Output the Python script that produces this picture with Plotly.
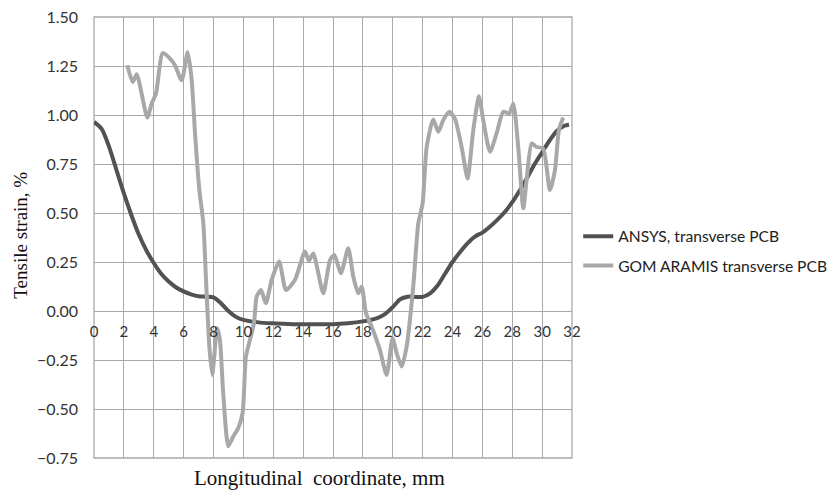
import plotly.graph_objects as go

# ANSYS, transverse PCB
ansys_x = [0, 0.5, 1, 1.5, 2, 2.5, 3, 3.5, 4, 4.5, 5, 5.5, 6, 6.5, 7, 7.5, 8, 8.5, 9, 9.5,
           10, 11, 12, 13, 14, 15, 16, 17, 18, 18.5, 19, 19.5, 20, 20.5, 21, 21.5, 22, 22.5,
           23, 23.5, 24, 24.5, 25, 25.5, 26, 26.5, 27, 27.5, 28, 28.5, 29, 29.5, 30, 30.5,
           31, 31.5, 31.8]
ansys_y = [0.965, 0.93, 0.84, 0.72, 0.60, 0.49, 0.39, 0.31, 0.245, 0.19, 0.15, 0.12, 0.10,
           0.085, 0.075, 0.073, 0.07, 0.04, 0.0, -0.03, -0.045, -0.058, -0.063, -0.066,
           -0.068, -0.068, -0.067, -0.062, -0.053, -0.046, -0.035, -0.015, 0.02, 0.06, 0.073,
           0.072, 0.072, 0.09, 0.13, 0.19, 0.25, 0.30, 0.345, 0.38, 0.40, 0.43, 0.465, 0.505,
           0.555, 0.615, 0.68, 0.75, 0.81, 0.87, 0.92, 0.945, 0.95]

# GOM ARAMIS transverse PCB
gom_x = [2.23, 2.59, 2.86, 3.57, 3.86, 4.15, 4.6, 5.09, 5.42, 5.87, 6.27, 6.54, 6.76, 7.05,
         7.32, 7.5, 7.72, 7.92, 8.05, 8.25, 8.43, 8.65, 8.99, 9.32, 9.66, 9.95, 10.17, 10.44,
         10.71, 10.89, 11.18, 11.51, 11.89, 12.4, 12.85, 13.45, 14.12, 14.39, 14.68, 15.35,
         15.8, 16.09, 16.53, 17.02, 17.36, 17.69, 17.92, 18.21, 18.59, 19.14, 19.59, 19.99,
         20.26, 20.6, 20.93, 21.37, 21.71, 22.0, 22.27, 22.71, 23.05, 23.38, 23.78, 24.16,
         24.61, 25.01, 25.39, 25.77, 26.06, 26.51, 26.95, 27.4, 27.8, 28.07, 28.4, 28.74,
         28.96, 29.3, 29.63, 30.07, 30.52, 30.86, 31.12, 31.41]
gom_y = [1.254, 1.169, 1.208, 0.987, 1.058, 1.11, 1.316, 1.288, 1.254, 1.177, 1.32, 1.18,
         0.91, 0.62, 0.447, 0.158, -0.18, -0.326, -0.23, -0.088, -0.147, -0.419, -0.69,
         -0.64, -0.597, -0.52, -0.232, -0.147, -0.062, 0.073, 0.107, 0.04, 0.158, 0.252,
         0.107, 0.158, 0.303, 0.257, 0.294, 0.09, 0.26, 0.286, 0.193, 0.32, 0.175, 0.09,
         0.124, -0.011, -0.08, -0.198, -0.326, -0.139, -0.215, -0.283, -0.181, 0.124, 0.447,
         0.549, 0.837, 0.977, 0.914, 0.973, 1.016, 0.982, 0.837, 0.676, 0.922, 1.096, 0.973,
         0.812, 0.906, 1.016, 1.008, 1.058, 0.837, 0.524, 0.668, 0.855, 0.837, 0.829, 0.617,
         0.719, 0.922, 0.987]

x_ticks = list(range(0, 33, 2))
y_ticks = [-0.75, -0.5, -0.25, 0, 0.25, 0.5, 0.75, 1.0, 1.25, 1.5]

ansys_name = "ANSYS, transverse PCB"
gom_name = "GOM ARAMIS transverse PCB"
x_title = "Longitudinal  coordinate, mm"
y_title = "Tensile strain, %"

fig = go.Figure()
fig.add_trace(go.Scatter(x=ansys_x, y=ansys_y, mode="lines", name=ansys_name, legendgroup="a",
                         line=dict(color="#525252", width=4, shape="spline", smoothing=0.8)))
fig.add_trace(go.Scatter(x=gom_x, y=gom_y, mode="lines", name=gom_name, legendgroup="b",
                         line=dict(color="#a8a8a8", width=4, shape="spline", smoothing=0.6)))

grid = "#a9a9a9"
# the page body has an 8px margin: the figure is placed at (8, 8) in the window
fig.update_layout(
    width=829, height=482,
    margin=dict(l=86, r=265, t=9, b=32, autoexpand=False),
    paper_bgcolor="white", plot_bgcolor="white",
    showlegend=True,
    legend=dict(x=1.013, y=0.469, xanchor="left", yanchor="middle",
                font=dict(family="Lato, Open Sans, sans-serif", size=15.6, color="#222222"),
                bgcolor="rgba(0,0,0,0)", traceorder="grouped", tracegroupgap=6),
    xaxis=dict(range=[0, 32], tickvals=x_ticks, ticktext=[str(v) for v in x_ticks],
               showgrid=True, gridcolor=grid, gridwidth=1.3, zeroline=False,
               anchor="free", position=1/3, showline=False, ticks="",
               ticklabelstandoff=10, automargin=False, ticklabeloverflow="allow",
               tickfont=dict(family="Lato, Open Sans, sans-serif", size=15, color="#333333")),
    yaxis=dict(range=[-0.75, 1.5], tickvals=y_ticks, tickformat=".2f",
               showgrid=True, gridcolor=grid, gridwidth=1.3, zeroline=True,
               zerolinecolor=grid, zerolinewidth=1.3, domain=[0, 1], ticks="",
               ticklabelstandoff=15, automargin=False, ticklabeloverflow="allow",
               tickfont=dict(family="Lato, Open Sans, sans-serif", size=16, color="#333333")),
    shapes=[dict(type="rect", xref="x domain", yref="y domain", x0=0, x1=1, y0=0, y1=1,
                 line=dict(color=grid, width=1.3), layer="below")],
    annotations=[
        dict(text=x_title, xref="paper", yref="paper", x=0.471, y=-0.0454,
             xanchor="center", yanchor="middle", showarrow=False,
             font=dict(family="Liberation Serif, Times New Roman, serif", size=21, color="#111111")),
        dict(text=y_title, xref="paper", yref="paper", x=-0.153, y=0.506,
             xanchor="center", yanchor="middle", showarrow=False, textangle=-90,
             font=dict(family="Liberation Serif, Times New Roman, serif", size=19, color="#111111")),
    ],
)

fig.write_html("out.html")
